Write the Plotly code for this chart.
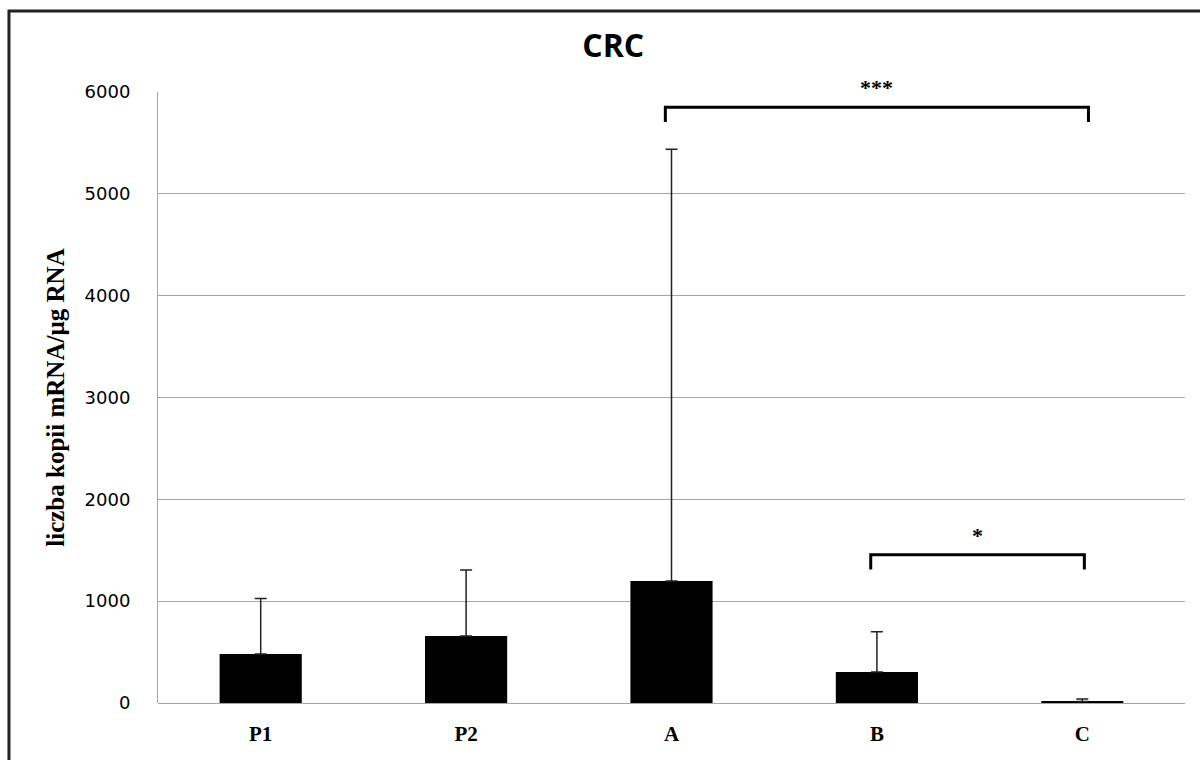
import plotly.graph_objects as go

categories = ["P1", "P2", "A", "B", "C"]
means = [481, 657, 1197, 304, 15]
errors_up = [546, 650, 4240, 395, 25]
y_ticks = [0, 1000, 2000, 3000, 4000, 5000, 6000]

# significance brackets: (x_left, x_right, y_top, y_drop, label)
brackets = [
    (1.97, 4.03, 5850, 5705, "***"),
    (2.97, 4.01, 1455, 1310, "*"),
]

fig = go.Figure()
fig.add_trace(go.Bar(
    x=list(range(len(categories))), y=means,
    marker=dict(color="black", line=dict(width=0)),
    width=0.4,
    error_y=dict(type="data", array=errors_up, symmetric=False,
                 arrayminus=[0] * len(means), color="#222", thickness=1.5, width=6),
    showlegend=False,
))

shapes = []
annotations = []
for x0, x1, yt, yd, lab in brackets:
    shapes.append(dict(type="path", xref="x", yref="y",
                       path=f"M {x0} {yd} L {x0} {yt} L {x1} {yt} L {x1} {yd}",
                       line=dict(color="black", width=3)))
    annotations.append(dict(x=(x0 + x1) / 2, y=yt, xref="x", yref="y", text=f"<b>{lab}</b>",
                            showarrow=False, yanchor="bottom", yshift=5,
                            font=dict(family="Liberation Serif", size=22, color="black")))

# outer frame
shapes.append(dict(type="rect", xref="paper", yref="paper",
                   x0=-0.1451, x1=1.03, y0=-0.12, y1=1.1326,
                   line=dict(color="#222", width=3), layer="above"))

fig.update_layout(
    width=1200, height=760,
    margin=dict(l=158, r=15, t=92, b=57),
    paper_bgcolor="white", plot_bgcolor="white",
    title=dict(text="<b>CRC</b>", x=0.511, xanchor="center", y=0.94, yanchor="middle",
               font=dict(family="Open Sans", size=32, color="black")),
    xaxis=dict(tickvals=list(range(len(categories))),
               ticktext=[f"<b>{c}</b>" for c in categories],
               range=[-0.5, len(categories) - 0.5], showgrid=False, zeroline=False,
               showline=False, ticks="",
               tickfont=dict(family="Liberation Serif", size=21, color="black"),
               ticklabelstandoff=16),
    yaxis=dict(range=[0, 6000], tickvals=y_ticks, showgrid=True, gridcolor="#a6a6a6",
               gridwidth=1, zeroline=True, zerolinecolor="#a6a6a6", zerolinewidth=1,
               showline=True, linecolor="#a6a6a6", linewidth=1, ticks="",
               tickfont=dict(family="DejaVu Sans", size=18, color="black"),
               ticklabelstandoff=23,
               title=dict(text="<b>liczba kopii mRNA/µg RNA</b>", standoff=12,
                          font=dict(family="Liberation Serif", size=25, color="black"))),
    shapes=shapes, annotations=annotations,
    bargap=0.6,
)

fig.write_html("out.html", config={"displayModeBar": False},
               post_script="document.body.style.margin='0';document.body.style.overflow='hidden';")
